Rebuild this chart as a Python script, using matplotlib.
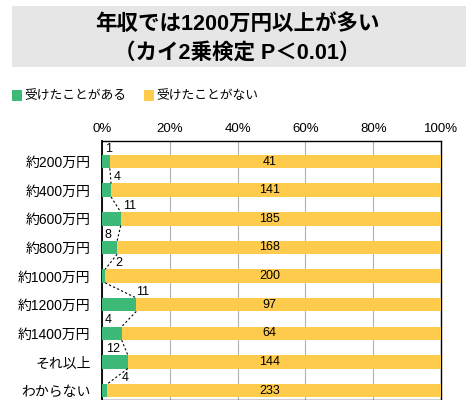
import matplotlib
matplotlib.use("Agg")
import matplotlib.pyplot as plt
from matplotlib.patches import Rectangle
import numpy as np

categories = ["約200万円", "約400万円", "約600万円", "約800万円", "約1000万円",
              "約1200万円", "約1400万円", "それ以上", "わからない"]
received = [1, 4, 11, 8, 2, 11, 4, 12, 4]
not_received = [41, 141, 185, 168, 200, 97, 64, 144, 233]
series_names = ["受けたことがある", "受けたことがない"]
xticks = [0, 20, 40, 60, 80, 100]
title_lines = ["年収では1200万円以上が多い", "（カイ2乗検定 P＜0.01）"]

# style: horizontal shift (percentage points) of the small value labels relative to bar end
label_dx = [-0.5, 1.7, 2.5, -2.6, 4.1, 1.9, -4.0, -4.3, 5.2]

GREEN = "#3dba78"
YELLOW = "#fecb4d"
FONT = ["Liberation Sans", "Noto Sans CJK JP", "DejaVu Sans"]
plt.rcParams["font.family"] = FONT

rec = np.array(received, float)
nrec = np.array(not_received, float)
tot = rec + nrec
p_rec = rec / tot * 100
p_nrec = nrec / tot * 100

fig = plt.figure(figsize=(4.74, 4.0), dpi=100)

# title box
fig.patches.append(Rectangle((12 / 474, 1 - 67 / 400), 454 / 474, 61 / 400,
                             transform=fig.transFigure, facecolor="#e6e6e6",
                             edgecolor="none"))
fig.text(0.5, 1 - 24 / 400, title_lines[0], ha="center", va="center",
         fontsize=15.5, fontweight="bold")
fig.text(0.5, 1 - 53 / 400, title_lines[1], ha="center", va="center",
         fontsize=15.5, fontweight="bold")

# legend
for x0, col, name in [(12, GREEN, series_names[0]), (144, YELLOW, series_names[1])]:
    fig.patches.append(Rectangle((x0 / 474, 1 - 101 / 400), 10 / 474, 11 / 400,
                                 transform=fig.transFigure, facecolor=col,
                                 edgecolor="none"))
    fig.text((x0 + 12) / 474, 1 - 96 / 400, name, ha="left", va="center",
             fontsize=9.2)

ax = fig.add_axes([101.7 / 474, 0.0, 339.6 / 474, 259 / 400])
y = np.arange(len(categories))
h = 0.47
ax.barh(y, p_rec, height=h, color=GREEN, zorder=3)
ax.barh(y, p_nrec, left=p_rec, height=h, color=YELLOW, zorder=3)

# series lines
for i in range(len(categories) - 1):
    ax.plot([p_rec[i], p_rec[i + 1]], [i + h / 2, i + 1 - h / 2],
            color="black", lw=0.8, ls=(0, (2, 2)), zorder=4)

# labels
for i in range(len(categories)):
    ax.text(p_rec[i] + label_dx[i], i - 0.45, str(received[i]), ha="center",
            va="center", fontsize=9)
    ax.text(49.5, i, str(not_received[i]), ha="center", va="center",
            fontsize=9, zorder=5)

ax.set_xlim(0, 100)
ax.set_ylim(8.33, -0.72)
ax.set_xticks(xticks)
ax.set_xticklabels([f"{t}%" for t in xticks], fontsize=9.5)
ax.xaxis.tick_top()
ax.tick_params(axis="x", length=0, pad=4)
ax.set_yticks(y)
ax.set_yticklabels(categories, fontsize=10)
ax.tick_params(axis="y", length=0, pad=8)
ax.grid(axis="x", color="#b0b0b0", lw=0.8, zorder=0)
for s in ax.spines.values():
    s.set_color("black")
    s.set_linewidth(1.0)
ax.spines["left"].set_linewidth(1.3)

fig.savefig("out.png", dpi=100)
